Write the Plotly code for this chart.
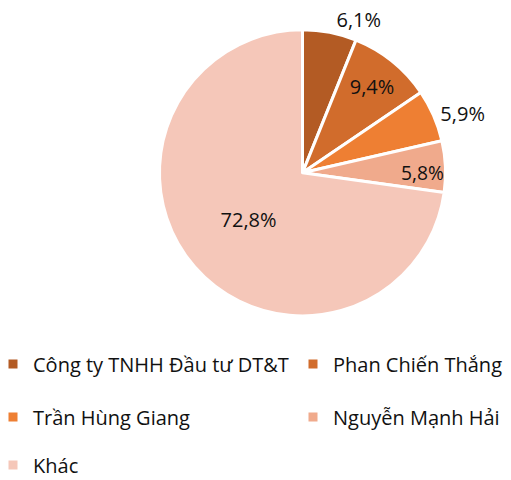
import plotly.graph_objects as go

labels = ["Công ty TNHH Đầu tư DT&T", "Phan Chiến Thắng", "Trần Hùng Giang", "Nguyễn Mạnh Hải", "Khác"]
values = [6.1, 9.4, 5.9, 5.8, 72.8]
text_labels = ["6,1%", "9,4%", "5,9%", "5,8%", "72,8%"]
colors = ["#B35B24", "#D16C2C", "#EE7F33", "#F0AA8C", "#F5C7B9"]
positions = ["outside", "inside", "outside", "inside", "inside"]

# legend grid: (column x, row y) in paper fractions
col1, col2 = -15 / 511, 285 / 511
row1, row2, row3 = 1 - 356 / 480, 1 - 409 / 480, 1 - 457 / 480
legend_x = [col1, col2, col1, col2, col1]
legend_y = [row1, row1, row2, row2, row3]

FONT = "Open Sans"

fig = go.Figure()
fig.add_trace(go.Pie(
    labels=labels, values=values, text=text_labels,
    textinfo="text", textposition=positions,
    insidetextorientation="horizontal",
    sort=False, direction="clockwise", rotation=0,
    marker=dict(colors=colors, line=dict(color="white", width=3)),
    textfont=dict(family=FONT, size=20, color="#111111"),
    showlegend=False, automargin=False,
    domain=dict(x=[0.2953, 0.8573], y=[0.3586, 0.9546]),
))

layout_legends = {}
for i, (lab, col) in enumerate(zip(labels, colors)):
    key = "legend" if i == 0 else f"legend{i + 1}"
    fig.add_trace(go.Scatter(
        x=[None], y=[None], mode="markers", name=lab,
        marker=dict(symbol="square", size=9, color=col),
        legend=key, showlegend=True,
    ))
    layout_legends[key] = dict(
        orientation="h", xanchor="left", yanchor="middle",
        x=legend_x[i], y=legend_y[i],
        font=dict(family=FONT, size=20, color="#111111"),
        bgcolor="rgba(0,0,0,0)", itemclick=False, itemdoubleclick=False)

fig.update_layout(
    width=511, height=480,
    margin=dict(l=0, r=0, t=0, b=0, autoexpand=False),
    paper_bgcolor="white", plot_bgcolor="white",
    xaxis=dict(visible=False), yaxis=dict(visible=False),
    **layout_legends,
)

fig.write_html("out.html")
